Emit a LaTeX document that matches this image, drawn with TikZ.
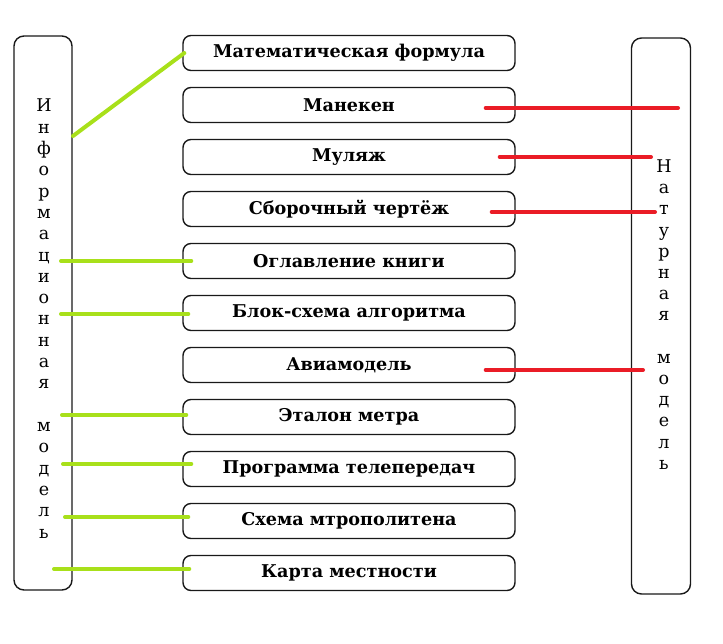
\documentclass[tikz,border=0pt]{standalone}
\usepackage{fontspec}
\setmainfont{DejaVu Serif}
\definecolor{linegreen}{RGB}{168,224,26}
\definecolor{linered}{RGB}{234,28,38}
\tikzset{
  item/.style={draw=black!90, line width=1.4pt, rounded corners=8pt,
    minimum width=332pt, minimum height=35pt, inner sep=0pt,
    font=\fontsize{17.6}{20}\selectfont\bfseries},
  column/.style={draw=black!90, line width=1.4pt, rounded corners=10pt},
  letter/.style={anchor=base, inner sep=0pt, font=\fontsize{17.5}{20}\selectfont},
  greenline/.style={linegreen, line width=4pt, line cap=round},
  redline/.style={linered, line width=4pt, line cap=round},
}
\begin{document}
\begin{tikzpicture}[x=1pt,y=-1pt]
\useasboundingbox (0,0) rectangle (723,644);

% the two columns
\node[column, minimum width=58pt, minimum height=554pt] (info) at (43,313) {};
\node[column, minimum width=59pt, minimum height=556pt] (nat) at (661,316) {};

\foreach \l [count=\i] in {И,н,ф,о,р,м,а,ц,и,о,н,н,а,я,{},м,о,д,е,л,ь}
  \node[letter] (il\i) at (44,{112+21.3*(\i-1)}) {\l};
\foreach \l [count=\i] in {Н,а,т,у,р,н,а,я,{},м,о,д,е,л,ь}
  \node[letter] (nl\i) at (664,{172.5+21.2*(\i-1)}) {\l};

% the list of models
\foreach \t [count=\i] in {Математическая формула, Манекен, Муляж,
    Сборочный чертёж, Оглавление книги, Блок-схема алгоритма, Авиамодель,
    Эталон метра, Программа телепередач, Схема мтрополитена, Карта местности}
  \node[item] (m\i) at (349,{53+52*(\i-1)}) {\t};

% green: information models
\coordinate (g1) at (73,136);
\coordinate (g5) at (61,261);
\coordinate (g6) at (61,314);
\coordinate (g8) at (62,415);
\coordinate (g9) at (63,464);
\coordinate (g10) at (65,517);
\coordinate (g11) at (54,569);

\draw[greenline] (g1) -- ([xshift=2pt]m1.west);
\draw[greenline] (g5) -- ([xshift=9pt]g5 -| m5.west);
\draw[greenline] (g6) -- ([xshift=6pt]g6 -| m6.west);
\draw[greenline] (g8) -- ([xshift=4pt]g8 -| m8.west);
\draw[greenline] (g9) -- ([xshift=9pt]g9 -| m9.west);
\draw[greenline] (g10) -- ([xshift=6pt]g10 -| m10.west);
\draw[greenline] (g11) -- ([xshift=7pt]g11 -| m11.west);

% red: natural models
\coordinate (r2) at (678,108);
\coordinate (r3) at (651,157);
\coordinate (r4) at (655,212);
\coordinate (r7) at (643,370);

\draw[redline] ([xshift=-30pt]r2 -| m2.east) -- (r2);
\draw[redline] ([xshift=-16pt]r3 -| m3.east) -- (r3);
\draw[redline] ([xshift=-24pt]r4 -| m4.east) -- (r4);
\draw[redline] ([xshift=-30pt]r7 -| m7.east) -- (r7);

\end{tikzpicture}
\end{document}
